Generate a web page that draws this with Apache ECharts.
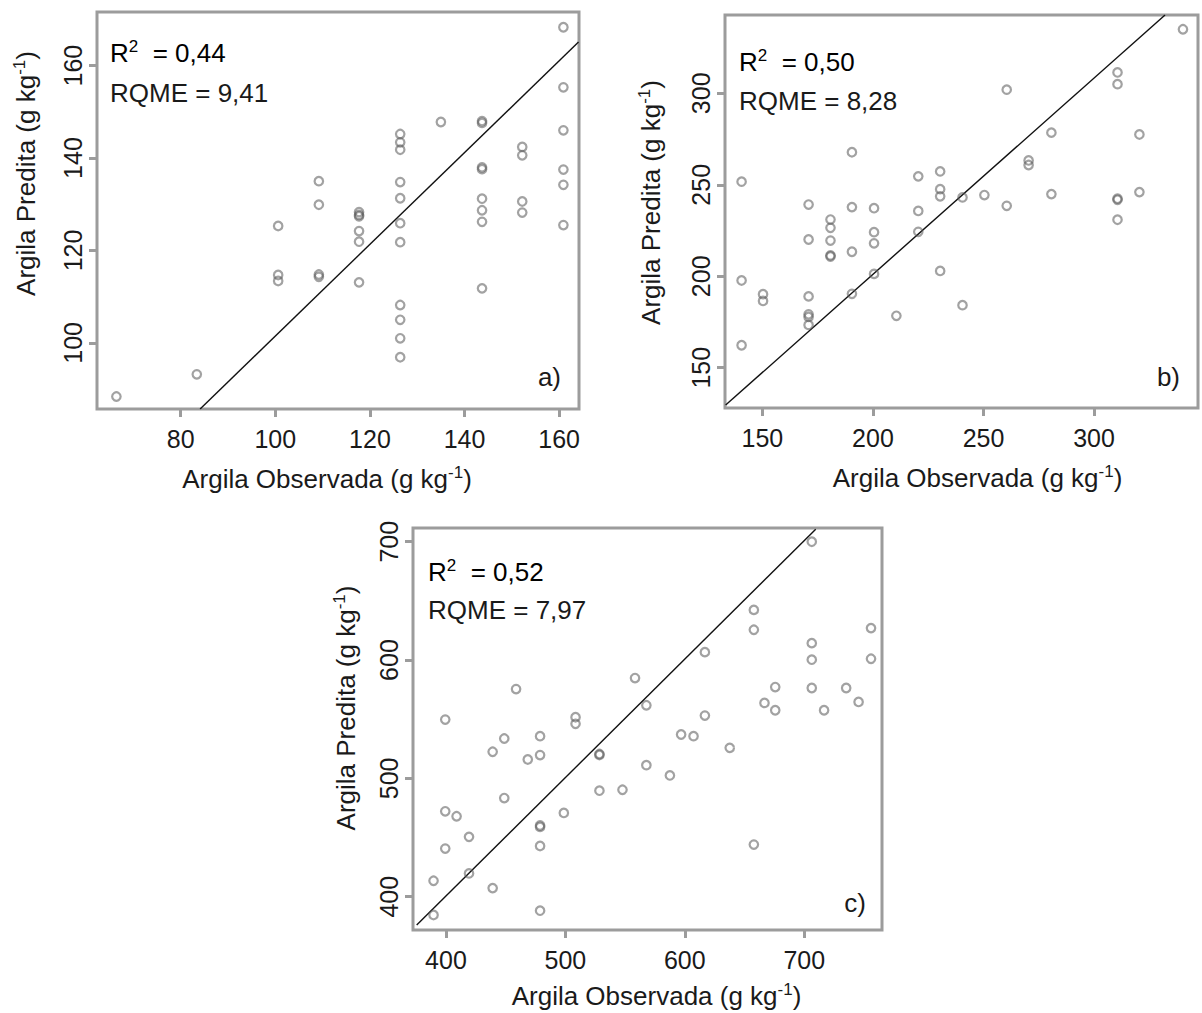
<!DOCTYPE html>
<html>
<head>
<meta charset="utf-8">
<script src="https://cdn.jsdelivr.net/npm/echarts@6/dist/echarts.min.js"></script>
<style>
  html, body { margin: 0; padding: 0; background: #ffffff; }
  #chart { width: 1202px; height: 1013px; }
</style>
</head>
<body>
<div id="chart"></div>
<script>
// ---- Panel a: observed vs predicted clay (g/kg) ----
const obsA = [66.4, 83.4,
  100.6, 100.6, 100.6,
  109.2, 109.2, 109.2, 109.2,
  117.7, 117.7, 117.7, 117.7, 117.7, 117.7,
  126.4, 126.4, 126.4, 126.4, 126.4, 126.4, 126.4, 126.4, 126.4, 126.4, 126.4,
  135.0,
  143.7, 143.7, 143.7, 143.7, 143.7, 143.7, 143.7, 143.7,
  152.2, 152.2, 152.2, 152.2,
  160.9, 160.9, 160.9, 160.9, 160.9, 160.9];
const predA = [88.4, 93.2,
  125.3, 114.7, 113.4,
  135.0, 129.9, 114.8, 114.3,
  128.3, 127.7, 127.4, 124.2, 121.9, 113.1,
  145.2, 143.4, 141.8, 134.8, 131.3, 125.9, 121.8, 108.2, 105.0, 101.0, 96.9,
  147.8,
  148.0, 147.6, 138.0, 137.6, 131.2, 128.7, 126.2, 111.8,
  142.4, 140.6, 130.6, 128.2,
  168.3, 155.3, 146.0, 137.5, 134.2, 125.5];
const lineA = [[84.1, 85.7], [164.1, 165.1]];
const xTicksA = [80, 100, 120, 140, 160];
const yTicksA = [100, 120, 140, 160];

// ---- Panel b ----
const obsB = [140.6, 140.6, 140.6,
  150.3, 150.3,
  170.9, 170.9, 170.9, 170.9, 170.9, 170.9,
  180.8, 180.8, 180.8, 180.8, 180.8,
  190.5, 190.5, 190.5, 190.5,
  200.5, 200.5, 200.5, 200.5,
  210.6,
  220.5, 220.5, 220.5,
  230.4, 230.4, 230.4, 230.4,
  240.5, 240.5,
  250.4,
  260.5, 260.5,
  270.4, 270.4,
  280.7, 280.7,
  310.6, 310.6, 310.6, 310.6, 310.6,
  320.5, 320.5,
  340.2];
const predB = [251.7, 197.7, 162.3,
  190.2, 186.5,
  239.2, 220.1, 189.0, 179.2, 177.8, 173.4,
  231.0, 226.5, 219.5, 211.4, 210.8,
  267.8, 237.8, 213.4, 190.4,
  237.2, 224.1, 218.0, 201.3,
  178.4,
  254.6, 235.7, 224.3,
  257.3, 247.6, 243.7, 202.9,
  243.1, 184.2,
  244.4,
  302.0, 238.5,
  263.3, 260.8,
  278.5, 244.9,
  311.4, 305.0, 242.4, 241.8, 230.9,
  277.5, 246.0,
  335.0];
const lineB = [[133.4, 129.6], [332.1, 342.8]];
const xTicksB = [150, 200, 250, 300];
const yTicksB = [150, 200, 250, 300];

// ---- Panel c ----
const obsC = [389.6, 389.6,
  399.4, 399.4, 399.4,
  408.9,
  419.3, 419.3,
  439.1, 439.1,
  448.8, 448.8,
  458.7,
  468.5,
  478.8, 478.8, 478.8, 478.8, 478.8, 478.8,
  498.7,
  508.5, 508.5,
  528.5, 528.5, 528.5,
  547.8,
  558.3,
  567.8, 567.8,
  587.5,
  596.9,
  607.3,
  616.8, 616.8,
  637.6,
  657.8, 657.8, 657.8,
  666.7,
  675.7, 675.7,
  706.3, 706.3, 706.3, 706.3,
  716.6,
  735.1,
  745.5,
  755.9, 755.9];
const predC = [413.5, 384.6,
  549.7, 472.2, 440.7,
  468.0,
  450.6, 419.7,
  522.5, 407.3,
  533.7, 483.4,
  575.5,
  516.0,
  535.7, 519.7, 460.2, 459.0, 442.9, 388.2,
  470.8,
  551.7, 546.1,
  520.6, 519.8, 489.6,
  490.4,
  584.8,
  561.8, 511.2,
  502.5,
  537.1,
  535.7,
  606.7, 553.1,
  525.8,
  642.4, 625.6, 444.1,
  563.8,
  577.2, 557.6,
  700.0, 614.3, 600.3, 576.4,
  557.6,
  576.4,
  564.6,
  627.0, 601.1];
const lineC = [[375.5, 376.1], [709.6, 710.5]];
const xTicksC = [400, 500, 600, 700];
const yTicksC = [400, 500, 600, 700];

// ---- shared styling ----
const FONT = '"Liberation Sans", Arial, Helvetica, sans-serif';
const INK = '#1a1a1a';
const FRAME = '#9c9c9c';

const titleRich = {
  t: { fontSize: 26, lineHeight: 30, color: INK, fontFamily: FONT },
  s: { fontSize: 17, lineHeight: 17, color: INK, fontFamily: FONT, verticalAlign: 'top' }
};
const X_NAME = '{t|Argila Observada (g kg}{s|-1}{t|)}';
const Y_NAME = '{t|Argila Predita (g kg}{s|-1}{t|)}';

function xAxis(gridIndex, min, max, ticks, nameShift, nameGap) {
  return {
    type: 'value', gridIndex, min, max,
    name: X_NAME, nameLocation: 'middle', nameGap,
    nameTextStyle: { rich: titleRich, padding: nameShift > 0 ? [0, 0, 0, 2 * nameShift] : [0, -2 * nameShift, 0, 0] },
    axisLine: { show: false },
    splitLine: { show: false },
    axisTick: { show: true, inside: false, length: 8, customValues: ticks,
      lineStyle: { color: FRAME, width: 3 } },
    axisLabel: { customValues: ticks, margin: 17, fontSize: 25, color: INK, fontFamily: FONT }
  };
}

function yAxis(gridIndex, min, max, ticks, nameShiftUp, nameGap) {
  return {
    type: 'value', gridIndex, min, max,
    name: Y_NAME, nameLocation: 'middle', nameGap, nameRotate: 90,
    nameTextStyle: { rich: titleRich, padding: [0, 0, 0, 2 * nameShiftUp] },
    axisLine: { show: false },
    splitLine: { show: false },
    axisTick: { show: true, inside: false, length: 8, customValues: ticks,
      lineStyle: { color: FRAME, width: 3 } },
    axisLabel: { customValues: ticks, rotate: 90, margin: 12, fontSize: 25, color: INK, fontFamily: FONT }
  };
}

function pairs(xs, ys) { return xs.map((x, i) => [x, ys[i]]); }

function scatter(idx, xs, ys) {
  return {
    type: 'scatter', xAxisIndex: idx, yAxisIndex: idx,
    data: pairs(xs, ys),
    symbol: 'circle', symbolSize: 8.5,
    itemStyle: { color: 'rgba(255,255,255,0)', borderColor: 'rgba(90,90,90,0.7)', borderWidth: 2.2 },
    silent: true, z: 3
  };
}

function refLine(idx, pts) {
  return {
    type: 'line', xAxisIndex: idx, yAxisIndex: idx,
    data: pts, symbol: 'none', clip: true,
    lineStyle: { color: '#111111', width: 1.4 },
    silent: true, z: 2
  };
}

function stats(x, y1, y2, r2, rqme) {
  return [
    { type: 'text', x, y: y1, z: 10,
      style: { text: '{t|R}{s|2}{t|  = ' + r2 + '}', rich: titleRich,
        verticalAlign: 'middle', textVerticalAlign: 'middle', align: 'left', textAlign: 'left' } },
    { type: 'text', x, y: y2, z: 10,
      style: { text: 'RQME = ' + rqme, fill: INK, font: '26px ' + FONT,
        verticalAlign: 'middle', textVerticalAlign: 'middle', align: 'left', textAlign: 'left' } }
  ];
}

function panelTag(x, y, label) {
  return { type: 'text', x, y, z: 10,
    style: { text: label, fill: INK, font: '26px ' + FONT,
      align: 'right', textAlign: 'right', verticalAlign: 'middle', textVerticalAlign: 'middle' } };
}

const chart = echarts.init(document.getElementById('chart'), null, { renderer: 'svg' });

chart.setOption({
  animation: false,
  backgroundColor: '#ffffff',
  grid: [
    { left: 97, top: 12, width: 482, height: 397, show: true, borderColor: FRAME, borderWidth: 3, backgroundColor: '#fff' },
    { left: 725, top: 15, width: 473, height: 393, show: true, borderColor: FRAME, borderWidth: 3, backgroundColor: '#fff' },
    { left: 413, top: 528, width: 469, height: 402, show: true, borderColor: FRAME, borderWidth: 3, backgroundColor: '#fff' }
  ],
  xAxis: [
    xAxis(0, 62.3, 164.2, xTicksA, -11, 55),
    xAxis(1, 133.1, 347.0, xTicksB, 16, 55),
    xAxis(2, 372.4, 765.1, xTicksC, 9, 51)
  ],
  yAxis: [
    yAxis(0, 85.7, 171.6, yTicksA, 37, 56),
    yAxis(1, 128.0, 342.8, yTicksB, 9, 59),
    yAxis(2, 371.9, 711.6, yTicksC, 21, 52)
  ],
  series: [
    refLine(0, lineA), scatter(0, obsA, predA),
    refLine(1, lineB), scatter(1, obsB, predB),
    refLine(2, lineC), scatter(2, obsC, predC)
  ],
  graphic: [
    ...stats(110, 53, 93, '0,44', '9,41'),
    ...stats(739, 62, 101, '0,50', '8,28'),
    ...stats(428, 572, 610, '0,52', '7,97'),
    panelTag(561, 377, 'a)'),
    panelTag(1180, 377, 'b)'),
    panelTag(866, 903, 'c)')
  ]
});
</script>
</body>
</html>
